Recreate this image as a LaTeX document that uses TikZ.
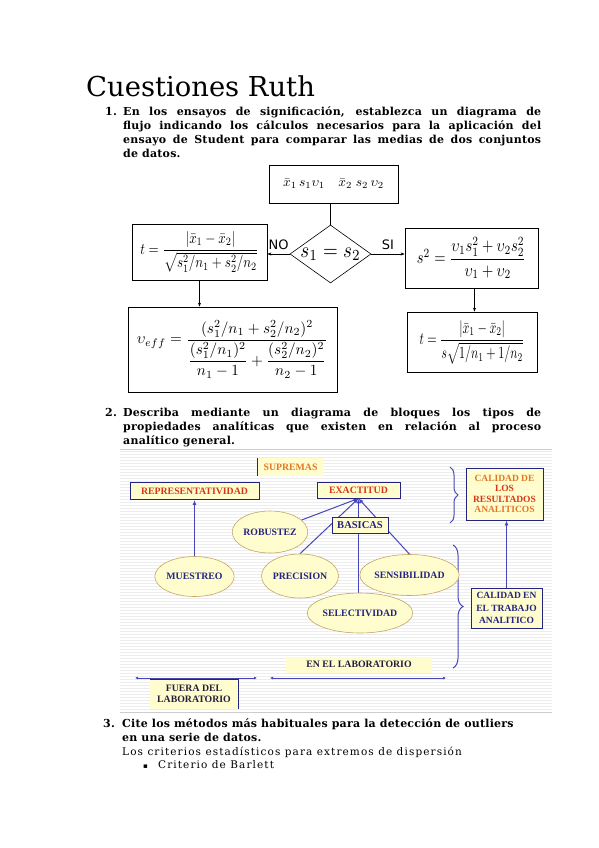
\documentclass[tikz,border=0pt]{standalone}
\usepackage{amsmath}
\usepackage[no-math]{fontspec}
\setmainfont{DejaVu Serif}
\newfontfamily\dvsans{DejaVu Sans}
\newfontfamily\libserif{Liberation Serif}
\usepackage{graphicx}
\usetikzlibrary{arrows.meta,decorations.pathreplacing,shapes.geometric,calc}
\pgfdeclarelayer{bg}
\pgfdeclarelayer{wires}
\pgfsetlayers{bg,wires,main}
\definecolor{dblue}{RGB}{35,35,130}
\definecolor{lblue}{RGB}{70,70,185}
\definecolor{dred}{RGB}{215,55,25}
\definecolor{orng}{RGB}{225,120,40}
\definecolor{lyel}{RGB}{255,253,205}
\definecolor{ebord}{RGB}{195,165,105}
\definecolor{dtext}{RGB}{35,30,60}
\newcommand{\jline}[1]{\makebox[418pt][s]{#1}}
\begin{document}
\begin{tikzpicture}[x=1pt,y=-1pt,
  qfont/.style={font=\fontsize{11}{15}\selectfont\bfseries\addfontfeatures{LetterSpace=2}, inner sep=0pt, anchor=base west},
  rfont/.style={font=\fontsize{10.5}{14}\selectfont\addfontfeatures{LetterSpace=10.5}, inner sep=0pt, anchor=base west},
  fcbox/.style={draw=black, line width=0.8pt, fill=white, inner sep=0pt},
  fcarrow/.style={draw=black, line width=0.5pt, -{Stealth[length=4pt,width=3pt]}},
  dfont/.style={font=\libserif\bfseries\fontsize{9.8}{10.5}\selectfont},
  ybox/.style={dfont, draw=dblue, line width=0.9pt, fill=lyel, inner sep=0pt, align=center},
  yplain/.style={dfont, fill=lyel, inner sep=0pt, align=center},
  ell/.style={dfont, ellipse, draw=ebord, line width=0.6pt, fill=lyel, inner sep=0pt, text=dblue},
  bline/.style={draw=lblue, line width=1pt},
  barrow/.style={bline, -{Latex[length=5pt,width=4pt]}},
  dbarrow/.style={bline, {Latex[length=3pt,width=3pt]}-{Latex[length=3pt,width=3pt]}}
]
\begin{pgfonlayer}{bg}
\fill[white] (0,0) rectangle (599,848);
\fill[white] (120,449) rectangle (552,712);
\foreach \yy in {451,454,...,711} \draw[black!7, line width=1pt] (120,\yy) -- (552,\yy);
\draw[black!20, line width=0.6pt] (120,449) -- (552,449);
\draw[black!20, line width=0.6pt] (120,712.5) -- (552,712.5);
\end{pgfonlayer}
\useasboundingbox (0,0) rectangle (599,848);

% Title
\node[anchor=base west, font=\fontsize{27.4}{30}\selectfont, inner sep=0pt] (title) at (86,97) {Cuestiones Ruth};

% Question 1
\node[qfont] (n1) at (105,115.5) {1.};
\node[qfont] (q1a) at (123,115.5) {\jline{En los ensayos de significación, establezca un diagrama de}};
\node[qfont] (q1b) at (123,129.5) {\jline{flujo indicando los cálculos necesarios para la aplicación del}};
\node[qfont] (q1c) at (123,143.5) {\jline{ensayo de Student para comparar las medias de dos conjuntos}};
\node[qfont] (q1d) at (123,157.5) {de datos.};

% Flowchart
\node[fcbox, minimum width=129pt, minimum height=38pt] (top) at (333.5,184) {\scalebox{1.35}{$\bar{x}_1\,s_1\upsilon_1\quad\bar{x}_2\;s_2\,\upsilon_2$}};
\node[diamond, draw=black, line width=0.6pt, minimum width=81pt, minimum height=58pt, inner sep=0pt] (dia) at (330.5,254) {};
\node[inner sep=0pt] (diat) at (dia.center) {\scalebox{1.9}[2.2]{$s_1=s_2$}};
\node[fcbox, minimum width=135pt, minimum height=56pt] (lbox) at (199.5,252) {\scalebox{1.3}[1.6]{$t=\dfrac{\left|\bar{x}_1-\bar{x}_2\right|}{\sqrt{s_1^2/n_1+s_2^2/n_2}}$}};
\node[fcbox, minimum width=133pt, minimum height=60pt] (rbox) at (471.5,258) {\scalebox{1.45}[1.8]{$s^2=\dfrac{\upsilon_1 s_1^2+\upsilon_2 s_2^2}{\upsilon_1+\upsilon_2}$}};
\node[fcbox, minimum width=209pt, minimum height=85pt] (effbox) at (232.5,349.5) {\scalebox{1.52}[1.55]{$\upsilon_{eff}=\dfrac{(s_1^2/n_1+s_2^2/n_2)^2}{\dfrac{(s_1^2/n_1)^2}{n_1-1}+\dfrac{(s_2^2/n_2)^2}{n_2-1}}$}};
\node[fcbox, minimum width=130pt, minimum height=60pt] (rtbox) at (472,342) {\scalebox{1.2}[1.7]{$t=\dfrac{\left|\bar{x}_1-\bar{x}_2\right|}{s\sqrt{1/n_1+1/n_2}}$}};

\draw[black, line width=0.6pt] (dia.north |- top.south) -- (dia.north);
\draw[fcarrow] (dia.west) -- (dia.west -| lbox.east) node[midway, above=4pt, inner sep=0pt, font=\dvsans\fontsize{13}{14}\selectfont] {NO};
\draw[fcarrow] (dia.east) -- (dia.east -| rbox.west) node[midway, above=4pt, inner sep=0pt, font=\dvsans\fontsize{13}{14}\selectfont] {SI};
\draw[fcarrow] (lbox.south) -- (lbox.south |- effbox.north);
\draw[fcarrow] ($(rbox.south)+(3,0)$) -- ($(rbox.south |- rtbox.north)+(3,0)$);

% Question 2
\node[qfont] (n2) at (105,416) {2.};
\node[qfont] (q2a) at (123,416) {\jline{Describa mediante un diagrama de bloques los tipos de}};
\node[qfont] (q2b) at (123,430) {\jline{propiedades analíticas que existen en relación al proceso}};
\node[qfont] (q2c) at (123,444) {analítico general.};

% Block diagram
\node[yplain, minimum width=65pt, minimum height=18pt, text=orng] (supr) at (290.5,467) {SUPREMAS};
\draw[dblue, line width=1pt] (supr.north west) -- (supr.south west);
\node[ybox, minimum width=129pt, minimum height=17pt, text=dred] (repr) at (194.5,491) {REPRESENTATIVIDAD};
\node[ybox, minimum width=83pt, minimum height=16pt, text=dred] (exact) at (358.5,490) {EXACTITUD};
\node[ell, minimum width=70pt, minimum height=42pt] (robus) at (270,532) {ROBUSTEZ};
\node[ell, minimum width=75pt, minimum height=40pt] (muest) at (194.5,576.5) {MUESTREO};
\node[ell, minimum width=70pt, minimum height=44pt] (precis) at (300,576) {PRECISION};
\node[ell, minimum width=87pt, minimum height=41pt] (sensib) at (409.5,575) {SENSIBILIDAD};
\node[ell, minimum width=88pt, minimum height=40pt] (selec) at (360,613) {SELECTIVIDAD};
\node[ybox, minimum width=56pt, minimum height=16pt, text=dblue, font=\libserif\bfseries\fontsize{10.5}{11}\selectfont] (basic) at (360,525) {BASICAS};
\node[ybox, minimum width=77pt, minimum height=52pt, font=\libserif\bfseries\fontsize{9.5}{10.5}\selectfont] (calres) at (504.5,494) {\textcolor{orng}{CALIDAD DE}\\\textcolor{dred}{LOS}\\\textcolor{dred}{RESULTADOS}\\\textcolor{orng}{ANALITICOS}};
\node[ybox, minimum width=71pt, minimum height=40pt, text=dblue, font=\libserif\bfseries\fontsize{9.5}{12.5}\selectfont] (calen) at (506.5,608) {CALIDAD EN\\EL TRABAJO\\ANALITICO};
\node[yplain, minimum width=146pt, minimum height=16pt, text=dtext] (enlab) at (359,664.5) {EN EL LABORATORIO};
\node[yplain, minimum width=88pt, minimum height=29pt, text=dtext] (fuera) at (194,694) {FUERA DEL\\LABORATORIO};
\draw[dblue, line width=0.9pt] (fuera.north west) -- (fuera.north east) -- (fuera.south east);

\coordinate (la) at (135,678);
\coordinate (lb) at (257,678);
\coordinate (ra) at (270,678);
\coordinate (rb) at (446,678);

\begin{pgfonlayer}{wires}
\draw[barrow] (muest.north) -- (muest.north |- repr.south);
\draw[barrow] (robus) -- (exact.south);
\draw[barrow] (precis.north) -- (exact.south);
\draw[barrow] (sensib.north) -- (exact.south);
\draw[barrow] (selec.north -| exact.south) -- (exact.south);
\draw[barrow] (calen.north) -- (calen.north |- calres.south);
\draw[bline, decorate, decoration={brace, amplitude=8pt}] (450,467) -- (450,523);
\draw[bline, decorate, decoration={brace, amplitude=10pt}] (453,545) -- (453,668);
\draw[dbarrow] (la) -- (lb);
\draw[dbarrow] (ra) -- (rb);
\end{pgfonlayer}

% Question 3
\node[qfont] (n3) at (103,727) {3.};
\node[qfont] (q3a) at (122,727) {Cite los métodos más habituales para la detección de outliers};
\node[qfont] (q3b) at (122,741.5) {en una serie de datos.};
\node[rfont] (q3c) at (122,755) {Los criterios estadísticos para extremos de dispersión};
\node[rfont, font=\dvsans\fontsize{7}{8}\selectfont] (bul) at (143,768.5) {▪};
\node[rfont] (q3d) at (158,768.5) {Criterio de Barlett};
\end{tikzpicture}
\end{document}
